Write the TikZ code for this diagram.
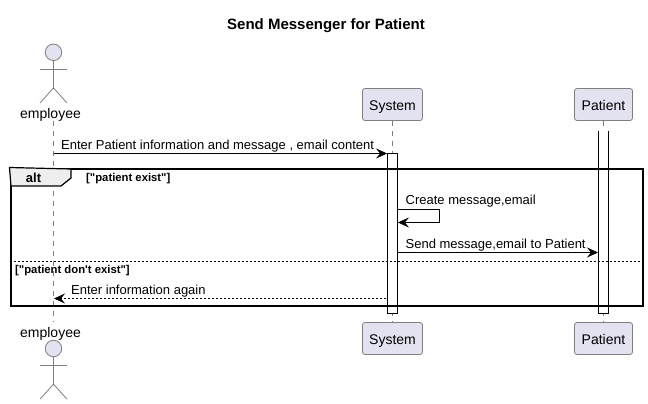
\documentclass[tikz,border=0pt]{standalone}
\usepackage{fontspec}
\setmainfont{Liberation Sans}
\newfontfamily\guardfont{Liberation Sans}
\usetikzlibrary{positioning}
\usetikzlibrary{calc}
\usetikzlibrary{arrows.meta}
\definecolor{partfill}{HTML}{E2E2F0}
\definecolor{partline}{HTML}{7F7F7F}
\definecolor{tabfill}{HTML}{EEEEEE}

\begin{document}
\begin{tikzpicture}[
      x=1pt,y=-1pt,
      partblock/.style={draw=partline,fill=partfill,rectangle,rounded corners=2.5pt,line width=0.8pt,minimum height=32pt,inner sep=0pt,text height=12pt,text depth=0pt,font=\fontsize{14}{16}\selectfont},
      actorlimb/.style={draw=partline,line width=0.8pt},
      actorhead/.style={circle,draw=partline,fill=partfill,line width=0.8pt,minimum size=16.5pt,inner sep=0pt},
      actorlabel/.style={inner sep=0pt,text height=12pt,text depth=0pt,font=\fontsize{14}{16}\selectfont},
      lifeline/.style={draw=partline,line width=0.7pt,dash pattern=on 5pt off 5pt},
      activebar/.style={draw=black,fill=white,rectangle,line width=0.8pt,minimum width=10pt,inner sep=0pt},
      msglabel/.style={inner sep=0pt,anchor=base west,font=\fontsize{13}{15}\selectfont},
      guardlabel/.style={inner sep=0pt,anchor=base west,font=\guardfont\fontsize{11.3}{13}\selectfont\bfseries},
      msgline/.style={line width=0.8pt,-{Stealth[length=11pt,width=10pt,inset=4pt]}},
      node distance=1cm]
      \useasboundingbox (0,0) rectangle (648,404);

      % Title
      \node[inner sep=0pt,font=\fontsize{15}{18}\selectfont\bfseries] (title) at (326,26) {Send Messenger for Patient};

      % Blocks
      \node[partblock,minimum width=60pt] (systemtop) at (392.5,104.5) {System};
      \node[partblock,minimum width=58pt] (patienttop) at (603.5,104.5) {Patient};
      \node[partblock,minimum width=60pt,below=201.2pt of systemtop] (systembot) {System};
      \node[partblock,minimum width=58pt,below=201.2pt of patienttop] (patientbot) {Patient};

      % Actors
      \node[actorlabel] (employeetop) at (50.5,112) {employee};
      \node[actorlabel] (employeebot) at (50.5,331) {employee};
      \node[actorhead] (headtop) at (53.5,52.3) {};
      \node[actorhead] (headbot) at (53.5,348.5) {};
      \foreach \who in {top,bot}{
        \coordinate (hip\who) at ($(head\who.south)+(0,27)$);
        \draw[actorlimb] (head\who.south) -- (hip\who);
        \draw[actorlimb] ($(head\who.south)+(-13.5,8)$) -- ($(head\who.south)+(13.5,8)$);
        \draw[actorlimb] ($(hip\who)+(-13.5,15)$) -- (hip\who) -- ($(hip\who)+(13.5,15)$);
      }

      % Lifelines
      \coordinate (employeeup) at (53.5,121);
      \coordinate (employeedown) at (53.5,322);
      \draw[lifeline] (employeeup) -- (employeedown);
      \draw[lifeline] (systemtop) -- (systembot);
      \draw[lifeline] (patienttop) -- (patientbot);

      % Activations
      \node[activebar,minimum height=160pt] (systembar) at (392.5,233.5) {};
      \coordinate (patientbarnw) at (598.5,131);
      \coordinate (patientbarne) at (608.5,131);
      \draw[black,fill=white,line width=0.8pt] (patientbarnw) -- (598.5,313.5) -- (608.5,313.5) -- (patientbarne);

      % Frame
      \node[draw=black,line width=2pt,rectangle,inner sep=0pt,minimum width=632pt,minimum height=137pt] (altframe) at (326.5,237) {};
      \coordinate (tabne) at (71,169);
      \coordinate (tabsw) at (11,186);
      \draw[black,fill=tabfill,line width=1.2pt] (altframe.north west) -- (tabne) -- (71,178) -- (61,186) -- (tabsw) -- cycle;
      \node[inner sep=0pt,anchor=base,font=\fontsize{13}{15}\selectfont\bfseries] (altname) at (33.5,182.5) {alt};
      \node[guardlabel] (guardyes) at (86,181.8) {["patient exist"]};
      \coordinate (splitleft) at (altframe.west |- 0,261);
      \coordinate (splitright) at (altframe.east |- 0,261);
      \draw[black,line width=0.7pt,dash pattern=on 2pt off 2pt] (splitleft) -- (splitright);
      \node[guardlabel] (guardno) at (15,273.5) {["patient don't exist"]};

      % Arrows
      \coordinate (enterstart) at (53.5,153.5);
      \coordinate (sendend) at (598,252.5);
      \coordinate (loopa) at (439.5,209.5);
      \coordinate (loopb) at (439.5,222.5);
      \coordinate (againstart) at (386,298.5);
      \coordinate (againend) at (54,298.5);
      \draw[msgline] (enterstart) -- (enterstart -| systembar.west);
      \draw[line width=0.8pt] (systembar.east |- loopa) -- (loopa) -- (loopb);
      \draw[msgline] (loopb) -- (systembar.east |- loopb);
      \draw[msgline] (systembar.east |- sendend) -- (sendend);
      \draw[msgline,dash pattern=on 2pt off 2pt] (againstart) -- (againend);

      % Labels
      \node[msglabel] (enterlabel) at (61,149) {Enter Patient information and message , email content};
      \node[msglabel] (createlabel) at (405.5,204) {Create message,email};
      \node[msglabel] (sendlabel) at (405.5,248) {Send message,email to Patient};
      \node[msglabel] (againlabel) at (71,294) {Enter information again};

    \end{tikzpicture}
\end{document}
